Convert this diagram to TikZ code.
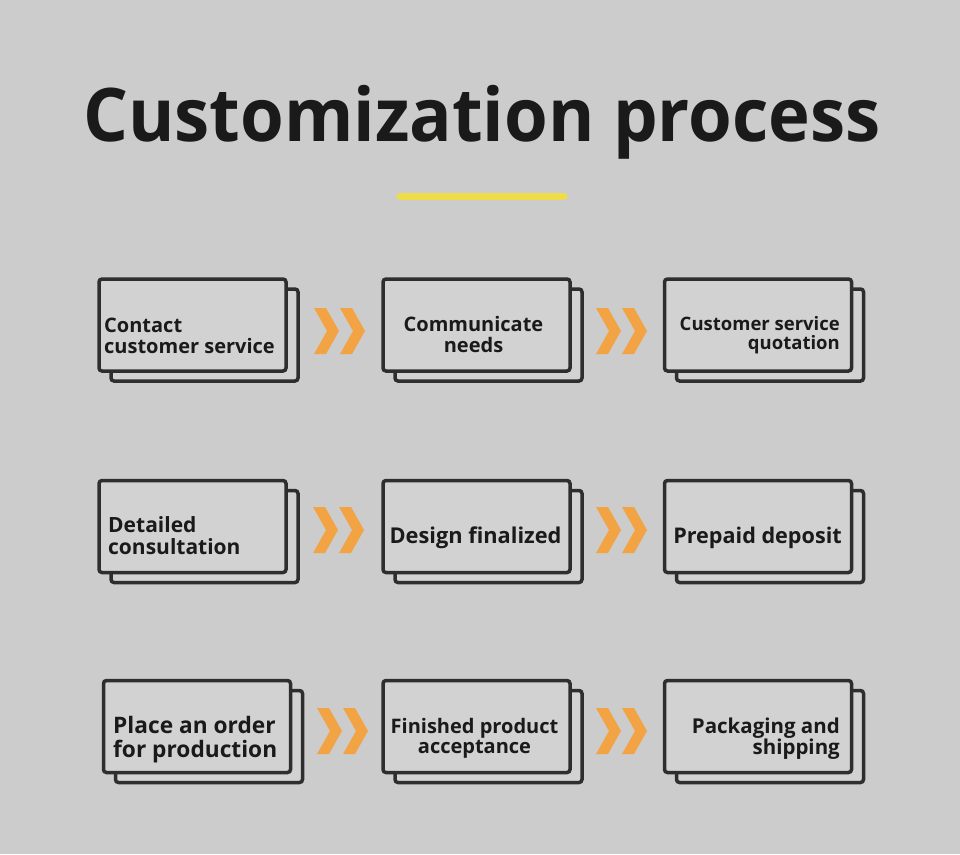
\documentclass[tikz,border=0pt]{standalone}
\usepackage{fontspec}
\setmainfont{Open Sans}
\usepackage{graphicx}
\definecolor{bg}{HTML}{CCCCCC}
\definecolor{boxfill}{HTML}{D2D2D2}
\definecolor{edge}{HTML}{2E2E2E}
\definecolor{ink}{HTML}{1A1A1A}
\definecolor{chev}{HTML}{F2A444}
\definecolor{accent}{HTML}{EEDD48}
\newcommand\txs{1.0}
\newcommand\tb[2]{\scalebox{\txs}[1]{\begin{tabular}[t]{@{}#1@{}}#2\end{tabular}}}
\newcommand\chevpair[2]{%
  \fill[chev] (#1,#2) ++(-26,-23) -- ++(12,0) -- ++(13,23) -- ++(-13,23) -- ++(-12,0) -- ++(13,-23) -- cycle;
  \fill[chev] (#1,#2) ++(0,-23) -- ++(12,0) -- ++(13,23) -- ++(-13,23) -- ++(-12,0) -- ++(13,-23) -- cycle;}
\begin{document}
\begin{tikzpicture}[x=1pt,y=-1pt,
  frontbox/.style={draw=edge, line width=3.5pt, fill=boxfill, rounded corners=3pt,
    minimum width=187pt, minimum height=92pt, inner sep=0pt},
  backbox/.style={frontbox},
  lbl/.style={inner sep=0pt, text=ink, font=\bfseries\fontsize{20}{20.5}\selectfont}]
\fill[bg] (0,0) rectangle (960,854);
\useasboundingbox (0,0) rectangle (960,854);

% title
\node[anchor=base west, inner sep=0pt, text=ink, font=\bfseries\fontsize{74}{80}\selectfont]
  (title) at (83,141) {\scalebox{0.955}[1]{Customization process}};
\draw[accent, line width=7pt, line cap=round] (400,196.5) coordinate (ya) -- (564,196.5) coordinate (yb);

% back boxes
\node[backbox] (s11) at (204.5,335) {};
\node[backbox] (s12) at (488.5,335) {};
\node[backbox] (s13) at (770,335) {};
\node[backbox] (s21) at (204.5,536.5) {};
\node[backbox] (s22) at (488.5,536.5) {};
\node[backbox] (s23) at (770,536.5) {};
\node[backbox] (s31) at (209,736.5) {};
\node[backbox] (s32) at (488.5,736.5) {};
\node[backbox] (s33) at (770,736.5) {};

% front boxes
\node[frontbox] (b11) at (192.5,325) {};
\node[frontbox] (b12) at (476.5,325) {};
\node[frontbox] (b13) at (758,325) {};
\node[frontbox] (b21) at (192.5,526.5) {};
\node[frontbox] (b22) at (476.5,526.5) {};
\node[frontbox] (b23) at (758,526.5) {};
\node[frontbox] (b31) at (197,726.5) {};
\node[frontbox] (b32) at (476.5,726.5) {};
\node[frontbox] (b33) at (758,726.5) {};

% labels
\node[lbl, anchor=base west] (t11) at (104,332) {\tb{l}{Contact\\customer service}};
\node[lbl, anchor=base] (t12) at (473.5,331) {\tb{c}{Communicate\\needs}};
\node[lbl, anchor=base east, font=\bfseries\fontsize{18.5}{19}\selectfont] (t13) at (840,330) {\tb{r}{Customer service\\quotation}};
\node[lbl, anchor=base west, font=\bfseries\fontsize{21}{21}\selectfont] (t21) at (108,532) {\tb{l}{Detailed\\consultation}};
\node[lbl, anchor=base, font=\bfseries\fontsize{21.8}{22}\selectfont] (t22) at (475.5,543) {\tb{c}{Design finalized}};
\node[lbl, anchor=base, font=\bfseries\fontsize{21.6}{22}\selectfont] (t23) at (757.5,543) {\tb{c}{Prepaid deposit}};
\node[lbl, anchor=base west, font=\bfseries\fontsize{22.7}{24}\selectfont] (t31) at (113,733) {\tb{l}{Place an order\\for production}};
\node[lbl, anchor=base] (t32) at (474.5,733) {\tb{c}{Finished product\\acceptance}};
\node[lbl, anchor=base east, font=\bfseries\fontsize{20.5}{20.5}\selectfont] (t33) at (840,733) {\tb{r}{Packaging and\\shipping}};

% chevrons
\chevpair{340}{331}
\chevpair{622}{331}
\chevpair{339}{530}
\chevpair{622}{530}
\chevpair{343}{731}
\chevpair{622}{731}
\end{tikzpicture}
\end{document}
